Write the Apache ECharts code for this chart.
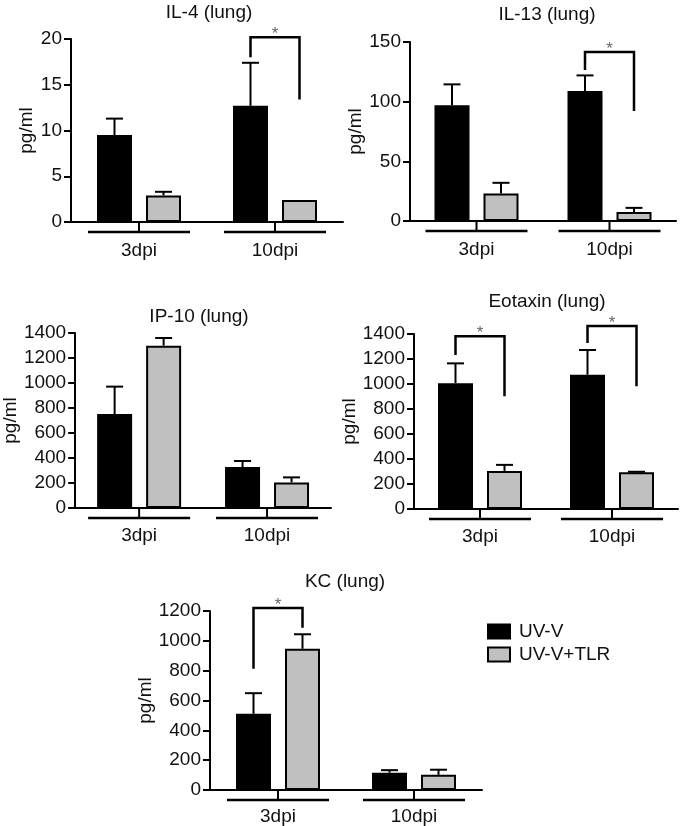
<!DOCTYPE html>
<html><head><meta charset="utf-8">
<script src="https://cdn.jsdelivr.net/npm/echarts@6/dist/echarts.min.js"></script>
<style>html,body{margin:0;padding:0;background:#fff}#c{width:680px;height:826px}</style>
</head><body><div id="c"></div>
<script>
// ---------- data ----------
const categories = ['3dpi', '10dpi'];
const seriesNames = ['UV-V', 'UV-V+TLR'];
const panelTitles = ['IL-4 (lung)', 'IL-13 (lung)', 'IP-10 (lung)', 'Eotaxin (lung)', 'KC (lung)'];
const yAxisName = 'pg/ml';

const yMax = [20, 150, 1400, 1400, 1200];
const yInterval = [5, 50, 200, 200, 200];

const il4Uvv = [9.5, 12.7];     const il4UvvErr = [1.8, 4.7];
const il4Tlr = [2.9, 2.4];      const il4TlrErr = [0.4, 0];
const il13Uvv = [97, 109];      const il13UvvErr = [17.5, 13];
const il13Tlr = [23, 7.5];      const il13TlrErr = [9, 3.5];
const ip10Uvv = [752, 328];     const ip10UvvErr = [219, 48];
const ip10Tlr = [1299, 205];    const ip10TlrErr = [61, 40];
const eotUvv = [1007, 1074];    const eotUvvErr = [158, 198];
const eotTlr = [305, 294];      const eotTlrErr = [48, 4];
const kcUvv = [511, 116];       const kcUvvErr = [138, 17];
const kcTlr = [947, 102];       const kcTlrErr = [97, 34];

// significance brackets: [category index, left leg bottom, bracket top, right leg bottom]
const il4Sig = [[1, 18.0, 20.2, 13.4]];
const il13Sig = [[1, 126.5, 141.6, 92.2]];
const ip10Sig = [];
const eotSig = [[0, 1232, 1382, 903], [1, 1328, 1464, 983]];
const kcSig = [[0, 813, 1220, 1087]];

const panels = [
  {uvv: il4Uvv, uvvErr: il4UvvErr, tlr: il4Tlr, tlrErr: il4TlrErr, sig: il4Sig},
  {uvv: il13Uvv, uvvErr: il13UvvErr, tlr: il13Tlr, tlrErr: il13TlrErr, sig: il13Sig},
  {uvv: ip10Uvv, uvvErr: ip10UvvErr, tlr: ip10Tlr, tlrErr: ip10TlrErr, sig: ip10Sig},
  {uvv: eotUvv, uvvErr: eotUvvErr, tlr: eotTlr, tlrErr: eotTlrErr, sig: eotSig},
  {uvv: kcUvv, uvvErr: kcUvvErr, tlr: kcTlr, tlrErr: kcTlrErr, sig: kcSig}
];

// ---------- layout / style ----------
const FONT = '"Liberation Sans", Arial, sans-serif';
const FS = 19;
const TXT = '#111';
const grids = [
  {left: 71, top: 39, width: 272, height: 183},
  {left: 410, top: 42, width: 266, height: 179},
  {left: 67, top: 333, width: 264, height: 175},
  {left: 414, top: 334, width: 264, height: 175},
  {left: 210, top: 611, width: 272, height: 180}
];
const titlePos = [[209, 13], [547, 15], [199, 317], [547, 302], [345, 582]];
const nameGaps = [35, 42, 47, 47, 47];
const labelMargins = [19, 19, 18, 18, 17];
const BAR_W = 35, BAR_GAP = 14;
const OFF = (BAR_W + BAR_GAP) / 2;

function errRender(offset) {
  return function (params, api) {
    const i = api.value(0), v = api.value(1), e = api.value(2);
    if (!(e > 0)) return {type: 'group', children: []};
    const b = api.coord([i, v]);
    const t = api.coord([i, v + e]);
    const x = b[0] + offset;
    return {type: 'group', children: [
      {type: 'line', shape: {x1: x, y1: b[1], x2: x, y2: t[1]}, style: {stroke: '#000', lineWidth: 2}},
      {type: 'line', shape: {x1: x - 8.5, y1: t[1], x2: x + 8.5, y2: t[1]}, style: {stroke: '#000', lineWidth: 2}}
    ]};
  };
}
function bracketRender(params, api) {
  const i = api.value(0);
  const l = api.coord([i, api.value(1)]);
  const tp = api.coord([i, api.value(2)]);
  const r = api.coord([i, api.value(3)]);
  const xl = l[0] - OFF, xr = l[0] + OFF;
  return {type: 'group', children: [
    {type: 'polyline', shape: {points: [[xl, l[1]], [xl, tp[1]], [xr, tp[1]], [xr, r[1]]]},
      style: {stroke: '#000', lineWidth: 2.5, fill: 'none'}},
    {type: 'text', style: {text: '*', x: (xl + xr) / 2, y: tp[1] - 3, textAlign: 'center',
      textVerticalAlign: 'middle', verticalAlign: 'middle', fontSize: 17, fontFamily: FONT, fill: '#666'}}
  ]};
}
function groupRender(params, api) {
  const c = api.coord([api.value(0), 0]);
  const y = c[1] + 10;
  return {type: 'group', children: [
    {type: 'line', shape: {x1: c[0] - 51, y1: y, x2: c[0] + 51, y2: y}, style: {stroke: '#000', lineWidth: 2.5}},
    {type: 'line', shape: {x1: c[0], y1: c[1], x2: c[0], y2: y}, style: {stroke: '#000', lineWidth: 2}}
  ]};
}

const xAxes = [], yAxes = [], series = [], graphics = [];
panels.forEach((p, k) => {
  xAxes.push({
    gridIndex: k, type: 'category', data: categories,
    axisLine: {lineStyle: {color: '#000', width: 2}},
    axisTick: {show: false},
    axisLabel: {fontSize: FS, fontFamily: FONT, color: TXT, margin: labelMargins[k]}
  });
  yAxes.push({
    gridIndex: k, type: 'value', min: 0, max: yMax[k], interval: yInterval[k],
    splitLine: {show: false},
    axisLine: {show: true, lineStyle: {color: '#000', width: 2}},
    axisTick: {show: true, inside: false, length: 7, lineStyle: {color: '#000', width: 2}},
    axisLabel: {fontSize: FS, fontFamily: FONT, color: TXT, margin: 9,
      formatter: v => String(v)},
    name: yAxisName, nameLocation: 'middle', nameGap: nameGaps[k], nameRotate: 90,
    nameTextStyle: {fontSize: FS, fontFamily: FONT, color: TXT}
  });
  series.push({
    type: 'bar', name: seriesNames[0], xAxisIndex: k, yAxisIndex: k, data: p.uvv,
    barWidth: BAR_W, barGap: (BAR_GAP / BAR_W * 100) + '%',
    itemStyle: {color: '#000', borderColor: '#000', borderWidth: 2}
  });
  series.push({
    type: 'bar', name: seriesNames[1], xAxisIndex: k, yAxisIndex: k, data: p.tlr,
    barWidth: BAR_W, barGap: (BAR_GAP / BAR_W * 100) + '%',
    itemStyle: {color: '#c0c0c0', borderColor: '#000', borderWidth: 2}
  });
  series.push({
    type: 'custom', xAxisIndex: k, yAxisIndex: k, clip: false, silent: true, z: 5,
    renderItem: errRender(-OFF), data: p.uvv.map((v, i) => [i, v, p.uvvErr[i]])
  });
  series.push({
    type: 'custom', xAxisIndex: k, yAxisIndex: k, clip: false, silent: true, z: 5,
    renderItem: errRender(OFF), data: p.tlr.map((v, i) => [i, v, p.tlrErr[i]])
  });
  series.push({
    type: 'custom', xAxisIndex: k, yAxisIndex: k, clip: false, silent: true, z: 5,
    renderItem: bracketRender, data: p.sig
  });
  series.push({
    type: 'custom', xAxisIndex: k, yAxisIndex: k, clip: false, silent: true, z: 5,
    renderItem: groupRender, data: categories.map((c, i) => [i, 0])
  });
  graphics.push({
    type: 'text', x: titlePos[k][0], y: titlePos[k][1],
    style: {text: panelTitles[k], fontSize: FS, fontFamily: FONT, fill: TXT,
      textAlign: 'center', textVerticalAlign: 'middle', verticalAlign: 'middle', align: 'center'}
  });
});

const chart = echarts.init(document.getElementById('c'), null, {renderer: 'canvas'});
chart.setOption({
  animation: false,
  backgroundColor: '#fff',
  grid: grids.map(g => Object.assign({containLabel: false}, g)),
  xAxis: xAxes,
  yAxis: yAxes,
  series: series,
  graphic: graphics,
  legend: {
    data: seriesNames, orient: 'vertical', left: 482, top: 617,
    icon: 'rect', itemWidth: 22, itemHeight: 14, itemGap: 4,
    textStyle: {fontSize: FS, fontFamily: FONT, color: TXT, padding: [0, 0, 0, 4]},
    selectedMode: false
  }
});
</script>
</body></html>
